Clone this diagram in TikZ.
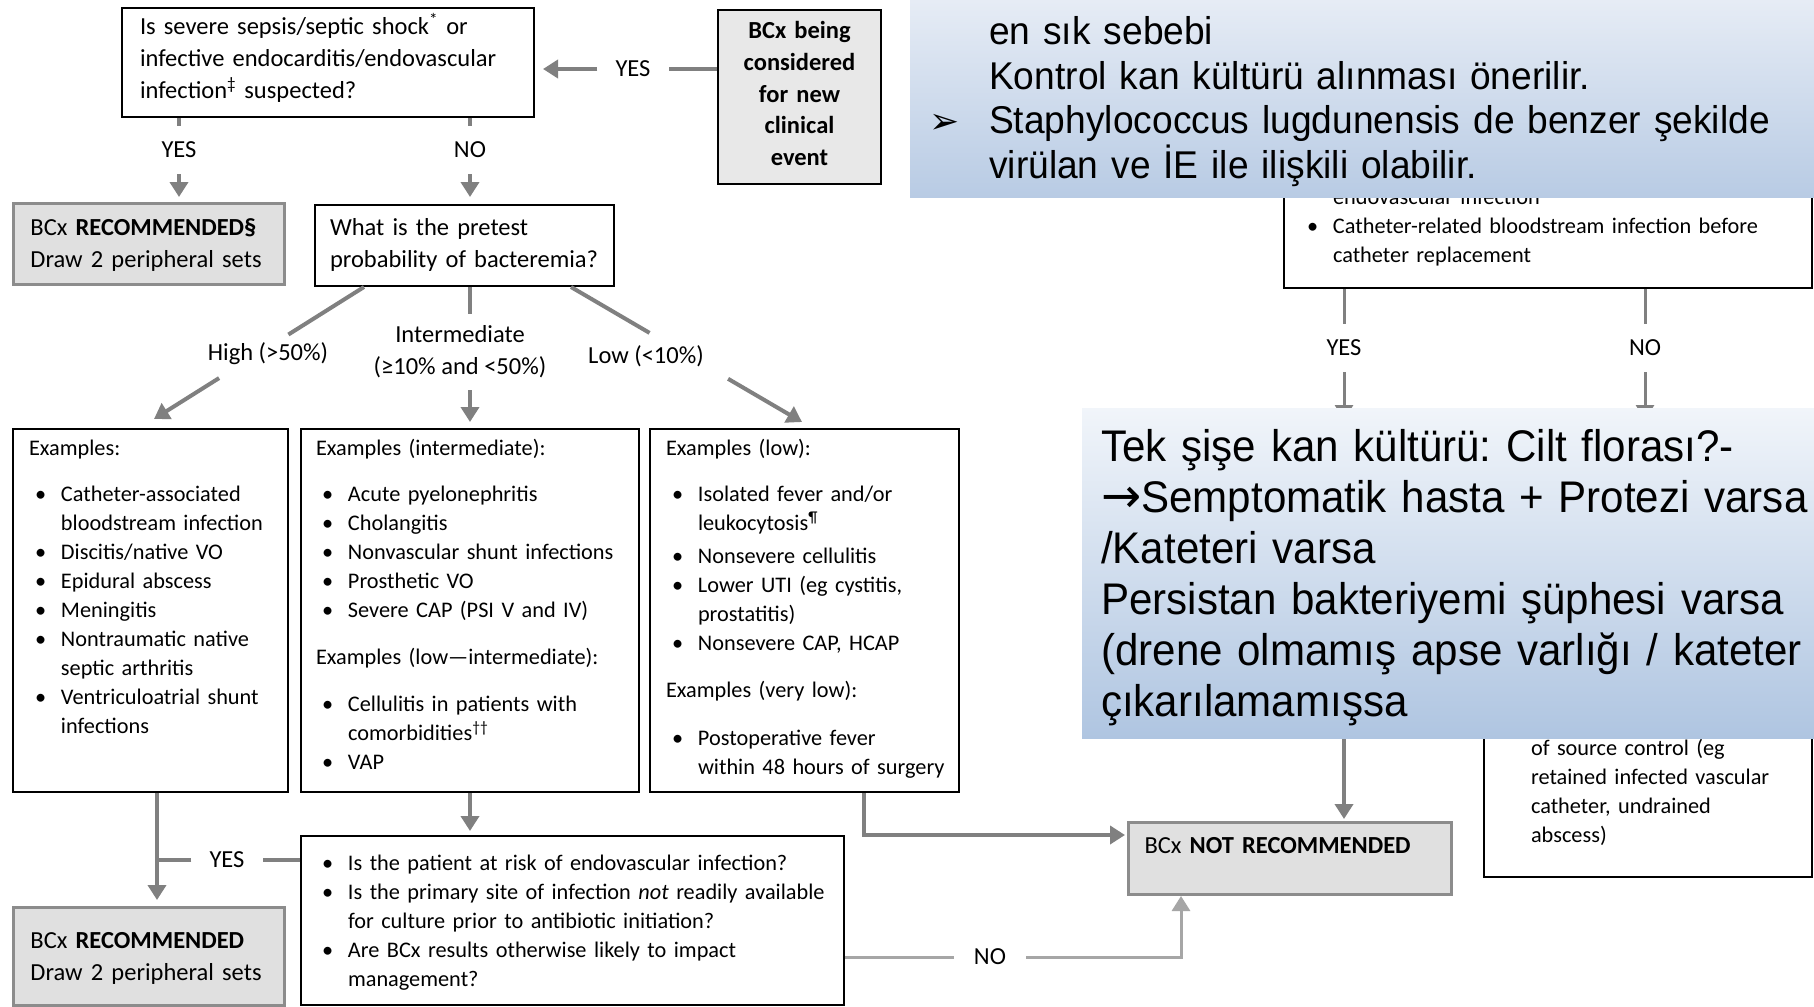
\documentclass[tikz,border=0pt]{standalone}
\usepackage{fontspec}
\setmainfont{Carlito}
\newfontfamily\slidefont[FakeStretch=0.96]{Liberation Sans}
\newfontfamily\slidefontb[FakeStretch=0.95]{Liberation Sans}
\newfontfamily\symfont{DejaVu Sans}
\usetikzlibrary{arrows.meta}
\definecolor{lineg}{HTML}{808080}
\definecolor{lineg2}{HTML}{A6A6A6}
\definecolor{boxg}{HTML}{E0E0E0}
\definecolor{boxgb}{HTML}{8C8C8C}
\definecolor{startg}{HTML}{E8E8E8}
\definecolor{slideatop}{HTML}{E6ECF5}
\definecolor{slideabot}{HTML}{B8CBE4}
\definecolor{slidebtop}{HTML}{F1F5FA}
\definecolor{slidebbot}{HTML}{AFC5E1}
\newcommand{\bigtxt}{\fontsize{24.5}{32}\selectfont}
\newcommand{\smalltxt}{\fontsize{22.3}{29}\selectfont}
\newcommand{\bul}{\makebox[32pt][l]{\hspace{6pt}\textbullet}}
\newcommand{\ind}{\hspace*{32pt}}
\frenchspacing

\begin{document}
\begin{tikzpicture}[x=1pt,y=-1pt]
    \tikzstyle{box}=[draw=black, line width=2pt, anchor=north west, inner ysep=0pt, align=left, font=\smalltxt]
    \tikzstyle{graybox}=[box, draw=boxgb, line width=3pt, fill=boxg, font=\bigtxt]
    \tikzstyle{lbl}=[inner sep=18pt, font=\bigtxt]
    \tikzstyle{vlbl}=[inner sep=16pt, font=\bigtxt]
    \tikzstyle{ln}=[draw=lineg, line width=4pt]
    \tikzstyle{conn}=[ln, -{Triangle[width=18pt,length=15pt]}]
    \tikzstyle{slidetxt}=[anchor=north west, inner sep=0pt, align=left]
    \path [use as bounding box, fill=white] (0,0) rectangle (1814,1006);
    \node [box, text width=376pt, inner xsep=18pt, text height=27pt, text depth=82pt, font=\bigtxt] (q1) at (121,7) {Is severe sepsis/septic shock\textsuperscript{*} or\\infective endocarditis/endovascular\\infection\textsuperscript{‡} suspected?};
    \node [box, fill=startg, text width=153pt, inner xsep=5pt, align=center, text height=29pt, text depth=145pt, font=\fontsize{24.5}{31.6}\selectfont\bfseries] (start) at (717,9) {BCx being\\considered\\for new\\clinical\\event};
    \node [graybox, text width=237pt, inner xsep=17pt, text height=32pt, text depth=49pt] (rec1) at (12,202) {BCx \textbf{RECOMMENDED§}\\Draw 2 peripheral sets};
    \node [box, text width=269pt, inner xsep=15pt, text height=30pt, text depth=51pt, font=\bigtxt] (pre) at (314,204) {What is the pretest\\probability of bacteremia?};
    \node [box, text width=243pt, inner xsep=16pt, text height=26pt, text depth=337pt] (exhigh) at (12,428) {Examples:\\[17pt]
      \bul Catheter-associated\\
      \ind bloodstream infection\\
      \bul Discitis/native VO\\
      \bul Epidural abscess\\
      \bul Meningitis\\
      \bul Nontraumatic native\\
      \ind septic arthritis\\
      \bul Ventriculoatrial shunt\\
      \ind infections};
    \node [box, text width=308pt, inner xsep=15pt, text height=26pt, text depth=337pt] (exint) at (300,428) {Examples (intermediate):\\[17pt]
      \bul Acute pyelonephritis\\
      \bul Cholangitis\\
      \bul Nonvascular shunt infections\\
      \bul Prosthetic VO\\
      \bul Severe CAP (PSI V and IV)\\[18pt]
      Examples (low—intermediate):\\[18pt]
      \bul Cellulitis in patients with\\
      \ind comorbidities\textsuperscript{††}\\
      \bul VAP};
    \node [box, text width=277pt, inner xsep=16pt, text height=26pt, text depth=337pt] (exlow) at (649,428) {Examples (low):\\[17pt]
      \bul Isolated fever and/or\\
      \ind leukocytosis\textsuperscript{¶}\\[4pt]
      \bul Nonsevere cellulitis\\
      \bul Lower UTI (eg cystitis,\\
      \ind prostatitis)\\
      \bul Nonsevere CAP, HCAP\\[18pt]
      Examples (very low):\\[19pt]
      \bul Postoperative fever\\
      \ind\makebox[230pt][l]{within 48 hours of surgery}};
    \node [box, text width=513pt, inner xsep=15pt, text height=34pt, text depth=135pt] (q2) at (300,835) {\bul Is the patient at risk of endovascular infection?\\
      \bul Is the primary site of infection \textit{not} readily available\\
      \ind for culture prior to antibiotic initiation?\\
      \bul Are BCx results otherwise likely to impact\\
      \ind management?};
    \node [graybox, text width=237pt, inner xsep=17pt, text height=41pt, text depth=57pt] (rec2) at (12,906) {BCx \textbf{RECOMMENDED}\\Draw 2 peripheral sets};
    \node [graybox, text width=291pt, inner xsep=16pt, text height=31pt, text depth=41pt] (notrec) at (1127,821) {BCx \textbf{NOT RECOMMENDED}};
    \node [box, text width=494pt, inner xsep=17pt, text height=53pt, text depth=84pt] (rtop) at (1283,150) {\ind endovascular infection\textsuperscript{**}\\
      \bul Catheter-related bloodstream infection before\\
      \ind catheter replacement};
    \node [box, text width=298pt, inner xsep=15pt, text height=154pt, text depth=122pt] (rbot) at (1483,600) {\ind of source control (eg\\
      \ind retained infected vascular\\
      \ind catheter, undrained\\
      \ind abscess)};
    \node [lbl] (yes1) at (633,69) {YES};
    \node [vlbl] (yes2) at (179,150) {YES};
    \node [vlbl] (no1) at (470,150) {NO};
    \node [lbl] (lhigh) at (268,354) {High (>50\%)};
    \node [lbl, inner sep=12pt, align=center] (lmid) at (460,352) {Intermediate\\(≥10\% and <50\%)};
    \node [lbl] (llow) at (646,356) {Low (<10\%)};
    \node [lbl] (yes3) at (227,860) {YES};
    \node [lbl, inner sep=20pt] (no2) at (990,957) {NO};
    \node [vlbl] (yes4) at (1344,348) {YES};
    \node [vlbl] (no3) at (1645,348) {NO};
    \coordinate (pa) at ([xshift=50pt]pre.south west);
    \coordinate (ta) at (154,419);
    \coordinate (pb) at ([xshift=-44pt]pre.south east);
    \coordinate (tb) at (802,422);
    \coordinate (j1) at (157,860);
    \coordinate (k1) at (864,835);
    \coordinate (k2) at (1181,957);
    \coordinate (h1) at (1344,420);
    \coordinate (h2) at (1344,700);
    \coordinate (h3) at (1645,420);
    \draw [ln] (start.west |- yes1) -- (yes1);
    \draw [conn, shorten >=8pt] (yes1) -- (q1.east |- yes1);
    \draw [ln] (q1.south -| yes2) -- (yes2);
    \draw [conn, shorten >=5pt] (yes2) -- (rec1.north -| yes2);
    \draw [ln] (q1.south -| no1) -- (no1);
    \draw [conn, shorten >=7pt] (no1) -- (pre.north -| no1);
    \path (pa) -- coordinate [pos=0.36] (ga1) coordinate [pos=0.69] (ga2) (ta);
    \draw [ln] (pa) -- (ga1);
    \draw [conn] (ga2) -- (ta);
    \draw [ln] (pre.south -| exint.north) -- (lmid.north -| exint.north);
    \draw [conn, shorten >=6pt] (lmid.south -| exint.north) -- (exint.north);
    \path (pb) -- coordinate [pos=0.34] (gb1) coordinate [pos=0.68] (gb2) (tb);
    \draw [ln] (pb) -- (gb1);
    \draw [conn] (gb2) -- (tb);
    \draw [conn, shorten >=6pt] (exhigh.south -| j1) -- (rec2.north -| j1);
    \draw [ln] (q2.west |- yes3) -- (yes3);
    \draw [ln] (yes3) -- (j1);
    \draw [conn, shorten >=4pt] (exint.south) -- (q2.north -| exint.south);
    \draw [conn, shorten >=2pt] (exlow.south -| k1) |- (notrec.west |- k1);
    \draw [ln, draw=lineg2, line width=3pt] (q2.east |- no2) -- (no2);
    \draw [conn, draw=lineg2, line width=3pt] (no2) -| (notrec.south -| k2);
    \draw [ln, line width=3pt] (rtop.south -| yes4) -- (yes4);
    \draw [conn, line width=3pt] (yes4) -- (h1);
    \draw [ln, line width=3pt] (rtop.south -| no3) -- (no3);
    \draw [conn, line width=3pt] (no3) -- (h3);
    \draw [conn, shorten >=2pt] (h2) -- (notrec.north -| h2);
    \node [anchor=north west, inner sep=0pt, minimum width=904pt, minimum height=197pt, top color=slideatop, bottom color=slideabot] (note1) at (910,0) {};
    \node [slidetxt, text width=860pt, text height=30pt, font=\slidefont\fontsize{38.7}{44.5}\selectfont] (note1txt) at (989,14.5) {en sık sebebi\\
      Kontrol kan kültürü alınması önerilir.\\
      \leavevmode\llap{{\symfont\fontsize{36}{36}\selectfont ➢}\hspace{30pt}}Staphylococcus lugdunensis de benzer şekilde\\
      virülan ve İE ile ilişkili olabilir.};
    \node [anchor=north west, inner sep=0pt, minimum width=732pt, minimum height=330pt, top color=slidebtop, bottom color=slidebbot] (note2) at (1082,408) {};
    \node [slidetxt, text width=730pt, text height=33pt, font=\slidefontb\fontsize{44.3}{51}\selectfont] (note2txt) at (1101,428) {Tek şişe kan kültürü: Cilt florası?-\\
      {\symfont\fontsize{48}{51}\selectfont →}Semptomatik hasta + Protezi varsa\\
      /Kateteri varsa\\
      Persistan bakteriyemi şüphesi varsa\\
      (drene olmamış apse varlığı / kateter\\
      çıkarılamamışsa};
\end{tikzpicture}
\end{document}
